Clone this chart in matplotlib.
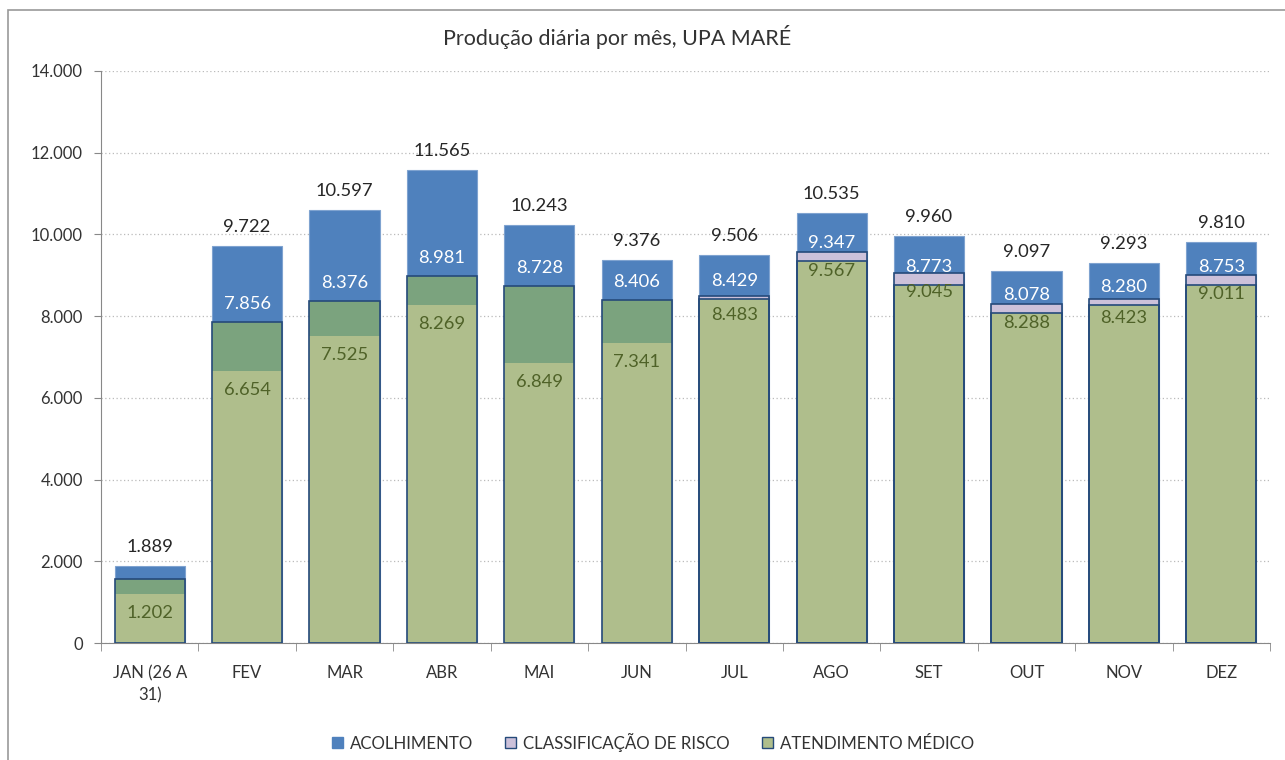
import matplotlib
matplotlib.use("Agg")
import matplotlib.pyplot as plt
import numpy as np
from matplotlib.patches import Rectangle, Patch

plt.rcParams['font.family'] = ['Lato', 'DejaVu Sans']

categories = ["JAN (26 A\n31)", "FEV", "MAR", "ABR", "MAI", "JUN", "JUL", "AGO", "SET", "OUT", "NOV", "DEZ"]
acolhimento = [1889, 9722, 10597, 11565, 10243, 9376, 9506, 10535, 9960, 9097, 9293, 9810]
classificacao = [1566, 7856, 8376, 8981, 8728, 8406, 8429, 9347, 8773, 8078, 8280, 8753]
atendimento = [1202, 6654, 7525, 8269, 6849, 7341, 8483, 9567, 9045, 8288, 8423, 9011]

BLUE = "#4F81BD"
LAV = "#CCC1DA"
LGREEN = "#AFBE8C"
DGREEN = "#7BA37E"
NAVY = "#254A7A"
OLIVE = "#4F6228"

def fmt(v):
    return f"{v:,}".replace(",", ".")

fig = plt.figure(figsize=(12.85, 7.6), dpi=100)
W, H = 1285, 760
ax = fig.add_axes([101 / W, 1 - 643 / H, (1270 - 101) / W, (643 - 71) / H])

x = np.arange(len(categories))
acol = np.array(acolhimento)
cl = np.array(classificacao)
at = np.array(atendimento)
upper = np.maximum(cl, at)
lower = np.minimum(cl, at)
bw = 0.72

ax.bar(x, acol, width=bw, color=BLUE, edgecolor="#7FA3D0", linewidth=0.8, zorder=2)
up_colors = [DGREEN if c > a else LAV for c, a in zip(cl, at)]
ax.bar(x, upper, width=bw, color=up_colors, edgecolor="none", zorder=3)
lo_edges = ["none" if c > a else NAVY for c, a in zip(cl, at)]
ax.bar(x, lower, width=bw, color=LGREEN, edgecolor=lo_edges, linewidth=1.2, zorder=4)
ax.bar(x, upper, width=bw, fill=False, edgecolor=NAVY, linewidth=1.2, zorder=5)

for i in range(len(x)):
    ax.annotate(fmt(acol[i]), (x[i], acol[i]), xytext=(0, 19), textcoords="offset pixels",
                ha="center", va="center", fontsize=13.2, color="#262626", zorder=6)
    ax.annotate(fmt(cl[i]), (x[i], cl[i]), xytext=(0, 18), textcoords="offset pixels",
                ha="center", va="center", fontsize=13.2, color="white", zorder=6)
    ax.annotate(fmt(at[i]), (x[i], at[i]), xytext=(0, -19), textcoords="offset pixels",
                ha="center", va="center", fontsize=13.2, color=OLIVE, zorder=6)

ax.set_xlim(-0.5, len(x) - 0.5)
ax.set_ylim(0, 14000)
ax.set_yticks(np.arange(0, 14001, 2000))
ax.set_yticklabels([fmt(v) for v in range(0, 14001, 2000)], fontsize=12, color="#333333")
ax.yaxis.grid(True, linestyle=(0, (1, 2)), color="#BBBBBB", linewidth=0.9, zorder=0)
ax.set_axisbelow(True)

ax.set_xticks(x)
ax.set_xticklabels(categories, fontsize=12, color="#333333", linespacing=1.45)
ax.set_xticks(np.arange(-0.5, len(x), 1.0), minor=True)
ax.tick_params(axis="x", which="major", length=0, pad=16)
ax.tick_params(axis="x", which="minor", length=6, color="#888888", direction="out")
ax.tick_params(axis="y", length=5, color="#888888", pad=8)

for s in ["top", "right"]:
    ax.spines[s].set_visible(False)
ax.spines["left"].set_color("#888888")
ax.spines["bottom"].set_color("#888888")

fig.text(617 / W, 1 - 37 / H, "Produção diária por mês, UPA MARÉ", ha="center", va="center",
         fontsize=15.5, color="#333333")

fig.patches.append(Rectangle((8 / W, -0.1), 1.2, 1 - 10 / H + 0.1, transform=fig.transFigure,
                             fill=False, edgecolor="#999999", linewidth=1.2))

handles = [Patch(facecolor=BLUE, edgecolor=BLUE),
           Patch(facecolor=LAV, edgecolor=NAVY),
           Patch(facecolor=LGREEN, edgecolor=NAVY)]
fig.legend(handles, ["ACOLHIMENTO", "CLASSIFICAÇÃO DE RISCO", "ATENDIMENTO MÉDICO"],
           loc="center", bbox_to_anchor=(653 / W, 1 - 742 / H), ncol=3, frameon=False,
           fontsize=12.2, handlelength=0.65, handleheight=0.65, handletextpad=0.4,
           columnspacing=1.9, labelcolor="#333333")

fig.savefig("out.png", dpi=100)
